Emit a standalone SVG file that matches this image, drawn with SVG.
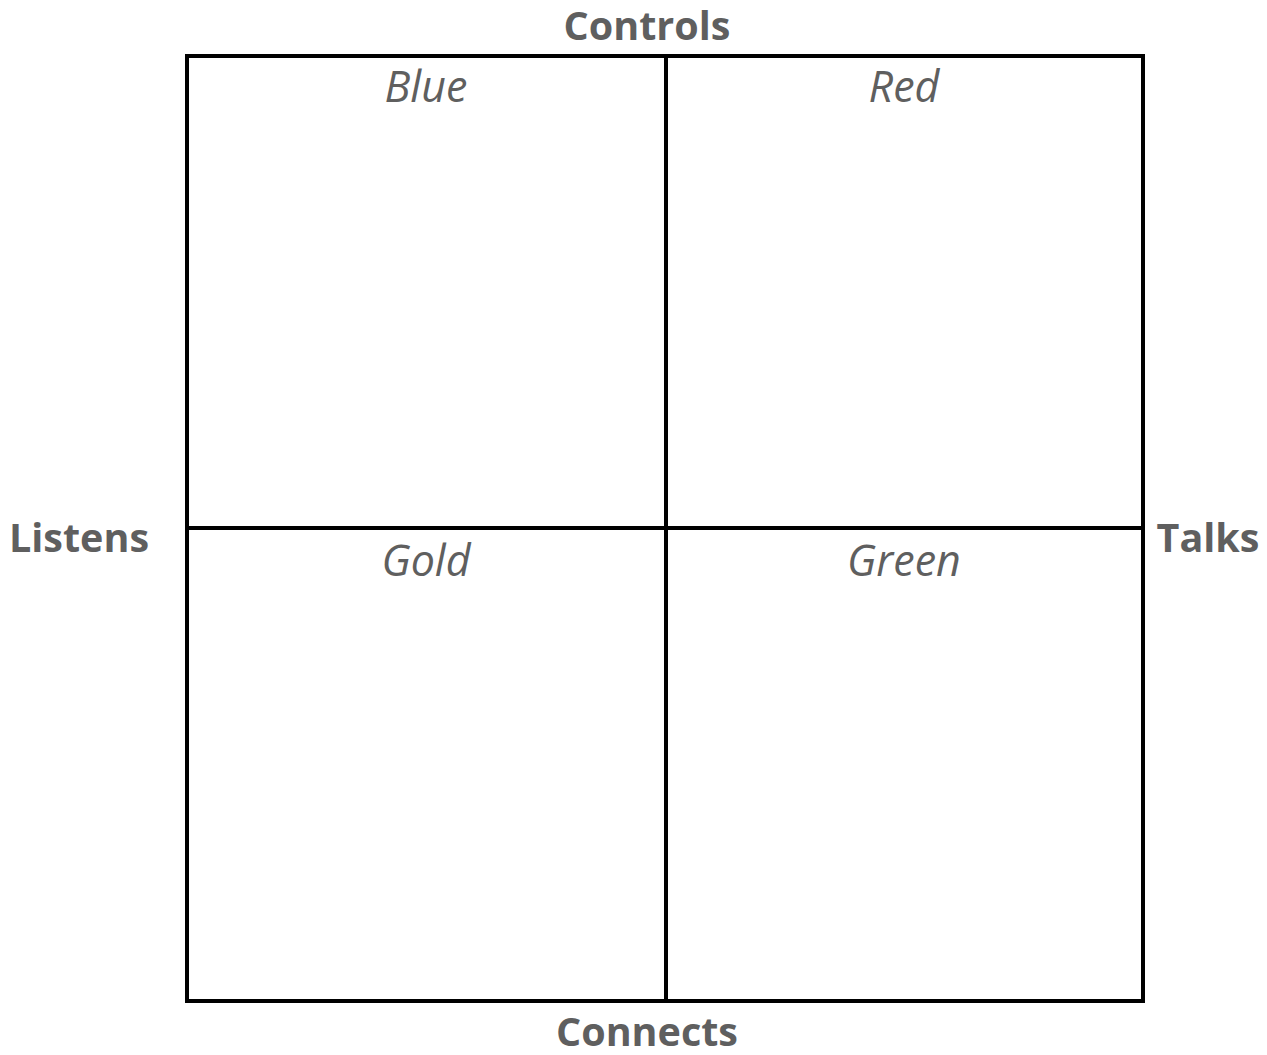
<svg xmlns="http://www.w3.org/2000/svg" width="1267" height="1055" viewBox="0 0 1267 1055">
<style>
.axis{font-family:"Open Sans","Liberation Sans",sans-serif;font-weight:bold;font-size:39.5px;fill:#5f5f5f;text-anchor:middle}
.quad{font-family:"Open Sans","Liberation Sans",sans-serif;font-style:italic;font-size:43px;fill:#5f5f5f;text-anchor:middle}
.line{stroke:#000;stroke-width:4;fill:none}
</style>
<rect width="1267" height="1055" fill="#fff"/>
<g id="connectors">
<rect class="line" x="187" y="56" width="956" height="945"/>
<line class="line" x1="666" y1="56" x2="666" y2="1001"/>
<line class="line" x1="187" y1="528" x2="1143" y2="528"/>
</g>
<g id="blue"><text class="quad" x="426" y="102">Blue</text></g>
<g id="red"><text class="quad" x="904" y="102">Red</text></g>
<g id="gold"><text class="quad" x="426" y="576">Gold</text></g>
<g id="green"><text class="quad" x="904" y="576">Green</text></g>
<g id="controls"><text class="axis" x="647" y="40">Controls</text></g>
<g id="listens"><text class="axis" x="79" y="552">Listens</text></g>
<g id="talks"><text class="axis" x="1208" y="552">Talks</text></g>
<g id="connects"><text class="axis" x="647" y="1046">Connects</text></g>
</svg>
